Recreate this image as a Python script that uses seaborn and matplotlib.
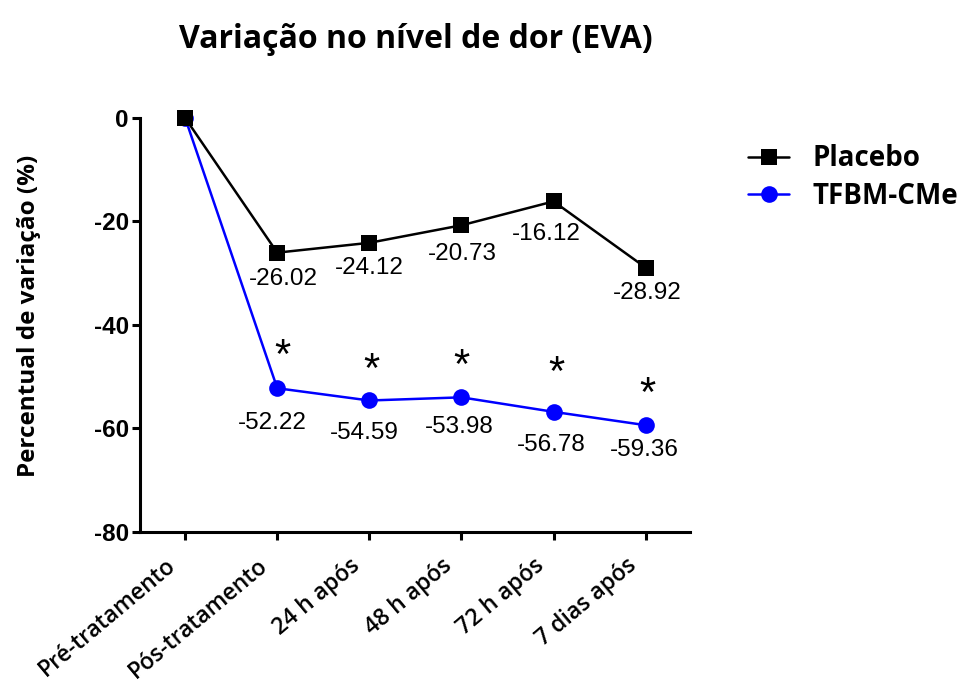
import matplotlib
matplotlib.use("Agg")
import matplotlib.pyplot as plt
import seaborn as sns
import pandas as pd
from matplotlib.lines import Line2D

# --- data ---
timepoints = ["Pré-tratamento", "Pós-tratamento", "24 h após",
              "48 h após", "72 h após", "7 dias após"]
placebo = [0, -26.02, -24.12, -20.73, -16.12, -28.92]
tfbm = [0, -52.22, -54.59, -53.98, -56.78, -59.36]
significant = [False, True, True, True, True, True]
y_ticks = [0, -20, -40, -60, -80]

# label placement (pixel offsets from each marker), purely cosmetic
placebo_offsets = [None, (6, -26), (0, -25), (1, -29), (-7, -33), (2, -25)]
tfbm_offsets = [None, (-5, -35), (-5, -33), (-2, -30), (-2, -33), (-1, -25)]
star_offsets = [None, (5, 31), (2, 30), (0, 30), (3, 38), (2, 30)]
tick_label_offset = (-12, -31)   # pixels from tick position on the x axis

COLORS = {"Placebo": "black", "TFBM-CMe": "#0000ff"}
MARKERS = {"Placebo": "s", "TFBM-CMe": "o"}


def build_frame():
    df = pd.DataFrame({
        "tempo": timepoints * 2,
        "variacao": placebo + tfbm,
        "grupo": ["Placebo"] * len(placebo) + ["TFBM-CMe"] * len(tfbm),
    })
    df["tempo"] = pd.Categorical(df["tempo"], categories=timepoints, ordered=True)
    return df


def px(off):
    # pixel offset -> points at dpi 100
    return (off[0] * 0.72, off[1] * 0.72)


def main():
    sns.set_style("ticks")
    plt.rcParams.update({
        "text.color": "black",
        "axes.labelcolor": "black",
        "xtick.color": "black",
        "ytick.color": "black",
        "axes.edgecolor": "black",
        "axes.unicode_minus": False,
    })
    df = build_frame()

    fig = plt.figure(figsize=(9.63, 6.86), dpi=100)
    ax = fig.add_axes([0.1454, 0.2245, 0.571, 0.6035])

    sns.lineplot(data=df, x="tempo", y="variacao", hue="grupo", style="grupo",
                 palette=COLORS, markers=MARKERS, dashes=False, sort=False,
                 linewidth=1.8, markersize=12, markeredgewidth=0,
                 ax=ax, legend=False, clip_on=False, zorder=3)
    for line in ax.lines:
        if line.get_color() == "black":
            line.set_zorder(4)

    lab_font = dict(fontsize=17.5, family="Liberation Sans", ha="center", va="center")
    for i, (p, t) in enumerate(zip(placebo, tfbm)):
        if placebo_offsets[i] is not None:
            ax.annotate(f"{p:.2f}", (i, p), xytext=px(placebo_offsets[i]),
                        textcoords="offset points", **lab_font)
        if tfbm_offsets[i] is not None:
            ax.annotate(f"{t:.2f}", (i, t), xytext=px(tfbm_offsets[i]),
                        textcoords="offset points", **lab_font)
        if significant[i]:
            ax.annotate("*", (i, t), xytext=px(star_offsets[i]),
                        textcoords="offset points", fontsize=30,
                        family="Liberation Sans", ha="center", va="center")

    ax.set_xlim(-0.49, 5.48)
    ax.set_ylim(-80, 0)
    ax.set_yticks(y_ticks)
    ax.set_xticks(range(len(timepoints)))
    ax.set_xticklabels([])
    # rotated category labels, placed a bit down-left of each tick like the reference
    for i, name in enumerate(timepoints):
        ax.annotate(name, (i, 0), xycoords=ax.get_xaxis_transform(),
                    xytext=px(tick_label_offset), textcoords="offset points",
                    rotation=40, rotation_mode="anchor", ha="right", va="center",
                    fontsize=16.6, family="Open Sans", fontweight="semibold",
                    annotation_clip=False)
    for lab in ax.get_yticklabels():
        lab.set_fontfamily("Liberation Sans")
        lab.set_fontweight("bold")
        lab.set_fontsize(17.5)
    ax.set_xlabel("")
    ax.set_ylabel("Percentual de variação (%)", fontsize=17.5, family="Open Sans",
                  fontweight="bold")
    ax.yaxis.set_label_coords(-0.18, 0.522)

    sns.despine(ax=ax)
    for s in ("left", "bottom"):
        ax.spines[s].set_linewidth(2.2)
    ax.tick_params(axis="both", width=2.2, length=6, color="black")
    ax.tick_params(axis="y", pad=2)

    fig.text(0.432, 0.942, "Variação no nível de dor (EVA)", ha="center", va="center",
             fontsize=23, family="Open Sans", fontweight="bold")

    # legend drawn by hand to mimic the Prism style
    handles = [Line2D([], [], color=COLORS[g], marker=MARKERS[g], markersize=12,
                      markeredgewidth=0, linewidth=1.8) for g in COLORS]
    fig.legend(handles, list(COLORS), loc="upper left",
               bbox_to_anchor=(0.762, 0.81), frameon=False, borderpad=0,
               handlelength=1.5, handletextpad=0.85, labelspacing=0.3,
               prop={"family": "Open Sans", "weight": "bold", "size": 20})

    fig.savefig("out.png", dpi=100)
    plt.close(fig)


if __name__ == "__main__":
    main()
